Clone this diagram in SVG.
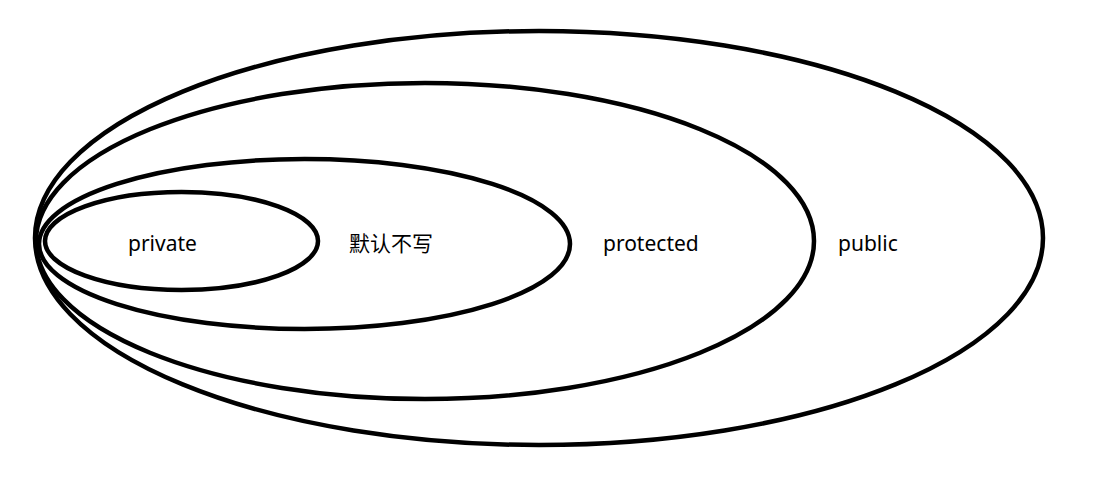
<svg xmlns="http://www.w3.org/2000/svg" width="1120" height="480" viewBox="0 0 1120 480">
<style>
.ring{fill:none;stroke:#000;stroke-width:4.5}
.lbl{font-family:"Noto Sans","Noto Sans CJK SC",sans-serif;font-size:21px;fill:#000}
</style>
<rect width="1120" height="480" fill="#fff"/>
<g id="public">
<ellipse class="ring" cx="539" cy="238" rx="504" ry="207"/>
<text class="lbl" x="838" y="251">public</text>
</g>
<g id="protected">
<ellipse class="ring" cx="425" cy="241" rx="389" ry="158"/>
<text class="lbl" x="603" y="251">protected</text>
</g>
<g id="default">
<ellipse class="ring" cx="304.5" cy="244" rx="265.5" ry="85"/>
<text class="lbl" x="349" y="251">默认不写</text>
</g>
<g id="private">
<ellipse class="ring" cx="181.5" cy="241" rx="136.5" ry="49"/>
<text class="lbl" x="128" y="251">private</text>
</g>
<g id="connectors"></g>
</svg>
